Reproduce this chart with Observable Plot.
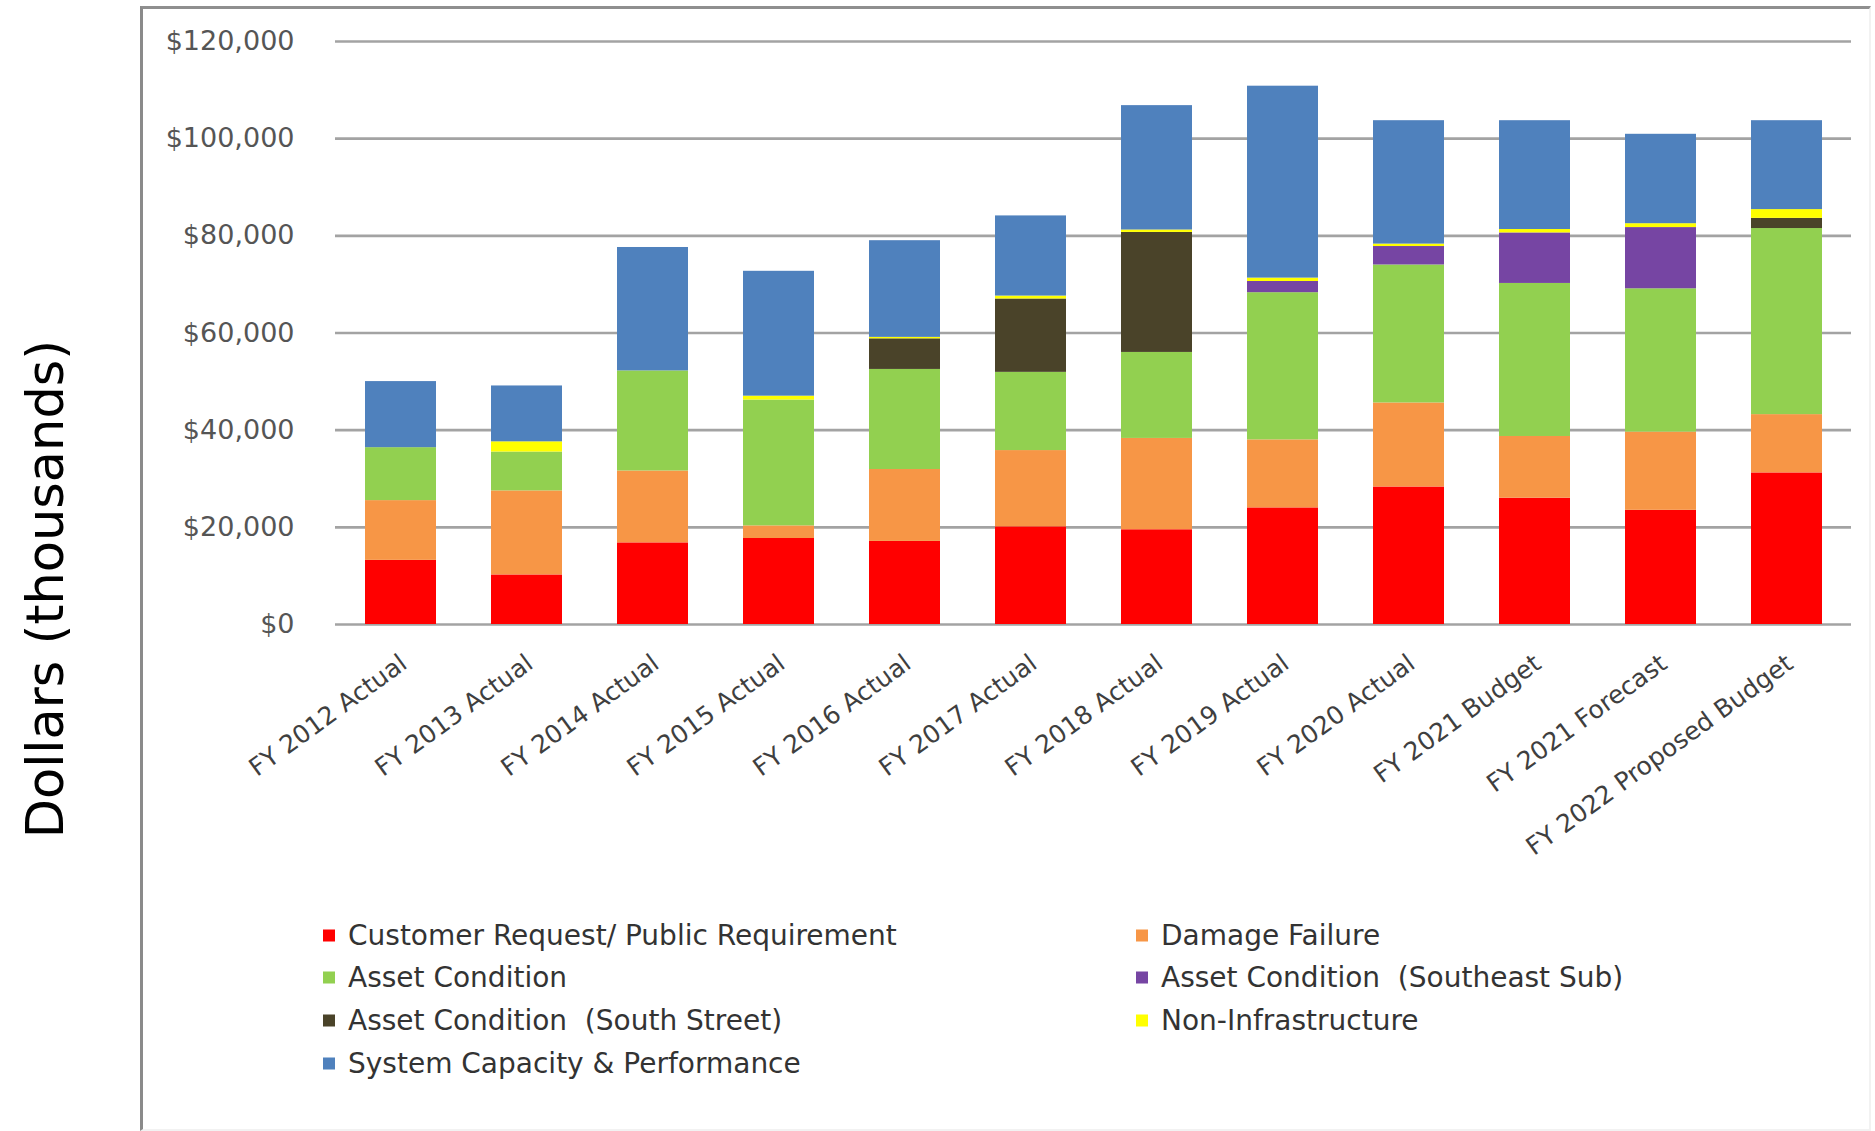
<!DOCTYPE html>
<html>
<head>
<meta charset="utf-8">
<script src="https://cdn.jsdelivr.net/npm/d3@7"></script>
<script src="https://cdn.jsdelivr.net/npm/@observablehq/plot@0.6"></script>
<style>
  html, body { margin: 0; padding: 0; background: #fff; }
  #page { position: relative; width: 1875px; height: 1131px; overflow: hidden; font-family: "DejaVu Sans", sans-serif; }
  #frame { position: absolute; left: 140px; top: 6px; width: 1726px; height: 1120px;
           border-left: 3px solid #8a8a8a; border-top: 3px solid #8f8f8f;
           border-right: 2px solid #f2f2f2; border-bottom: 2px solid #f2f2f2; }
  #chart { position: absolute; left: 0; top: 0; }
  #ytitle { position: absolute; left: 45px; top: 589px; transform: translate(-50%, -50%) rotate(-90deg);
            white-space: nowrap; font-size: 51px; color: #000; font-family: "DejaVu Sans", sans-serif; }
  #legend { position: absolute; left: 0; top: 0; width: 1875px; height: 1131px; pointer-events: none; }
  .item { position: absolute; display: flex; align-items: center; white-space: pre;
          font-size: 28px; color: #333; transform: translateY(-50%); }
  .sw { width: 12px; height: 12px; margin-right: 13px; display: inline-block; }
</style>
</head>
<body>
<div id="page">
  <div id="frame"></div>
  <div id="chart"></div>
  <div id="ytitle">Dollars (thousands)</div>
  <div id="legend"></div>
</div>
<script>
// ---- Data (dollars in thousands) ----
const categories = ["FY 2012 Actual", "FY 2013 Actual", "FY 2014 Actual", "FY 2015 Actual", "FY 2016 Actual",
  "FY 2017 Actual", "FY 2018 Actual", "FY 2019 Actual", "FY 2020 Actual", "FY 2021 Budget",
  "FY 2021 Forecast", "FY 2022 Proposed Budget"];

const seriesNames = ["Customer Request/ Public Requirement", "Damage Failure", "Asset Condition",
  "Asset Condition  (Southeast Sub)", "Asset Condition  (South Street)", "Non-Infrastructure",
  "System Capacity & Performance"];

const seriesColors = ["#ff0000", "#f79646", "#92d050", "#7645a3", "#4a4329", "#ffff00", "#4f81bd"];

const customerRequest = [13200, 10200, 16800, 17700, 17100, 20100, 19500, 24000, 28300, 26000, 23500, 31200];
const damageFailure   = [12300, 17300, 14800,  2600, 14800, 15700, 18800, 14000, 17300, 12700, 16100, 12000];
const assetCondition  = [10900,  8000, 20600, 25900, 20600, 16100, 17700, 30300, 28400, 31500, 29500, 38300];
const southeastSub    = [    0,     0,     0,     0,     0,     0,     0,  2300,  3800, 10400, 12600,     0];
const southStreet     = [    0,     0,     0,     0,  6300, 15100, 24700,     0,     0,     0,     0,  2100];
const nonInfra        = [    0,  2100,     0,   800,   300,   600,   500,   700,   500,   700,   800,  1800];
const systemCapacity  = [13600, 11500, 25400, 25700, 19900, 16500, 25600, 39500, 25400, 22400, 18400, 18300];

const yTicks = [0, 20000, 40000, 60000, 80000, 100000, 120000];

const seriesValues = [customerRequest, damageFailure, assetCondition, southeastSub, southStreet, nonInfra, systemCapacity];

const data = [];
categories.forEach((c, i) => {
  seriesNames.forEach((s, j) => {
    data.push({category: c, series: s, value: seriesValues[j][i]});
  });
});

const fmt = d3.format(",");

const chart = Plot.plot({
  width: 1875,
  height: 900,
  marginLeft: 335,
  marginRight: 24,
  marginTop: 41,
  marginBottom: 276,
  style: {fontFamily: "DejaVu Sans, sans-serif", background: "transparent"},
  x: {type: "band", domain: categories, paddingInner: 0.44, paddingOuter: 0.22, label: null, axis: null},
  y: {domain: [0, 120000], label: null, axis: null},
  color: {domain: seriesNames, range: seriesColors},
  marks: [
    Plot.ruleY(yTicks, {stroke: "#a3a3a3", strokeWidth: 2.6}),
    Plot.barY(data, Plot.stackY({x: "category", y: "value", fill: "series", order: seriesNames})),
    Plot.axisY(yTicks, {tickSize: 0, tickPadding: 41, fontSize: 27, fill: "#555",
      tickFormat: d => "$" + fmt(d), label: null}),
    Plot.axisX({tickSize: 0, tickRotate: -36, tickPadding: 36, dx: 3, fontSize: 25, fill: "#3f3f3f", label: null})
  ]
});
document.getElementById("chart").appendChild(chart);

// ---- Legend (HTML, below the plot area) ----
const legend = document.getElementById("legend");
const colX = [323, 1136];
const rowY = [935, 977, 1020, 1063];
seriesNames.forEach((name, k) => {
  const col = k % 2, row = Math.floor(k / 2);
  const item = document.createElement("div");
  item.className = "item";
  item.style.left = colX[col] + "px";
  item.style.top = rowY[row] + "px";
  const sw = document.createElement("span");
  sw.className = "sw";
  sw.style.background = seriesColors[k];
  item.appendChild(sw);
  item.appendChild(document.createTextNode(name));
  legend.appendChild(item);
});
</script>
</body>
</html>
